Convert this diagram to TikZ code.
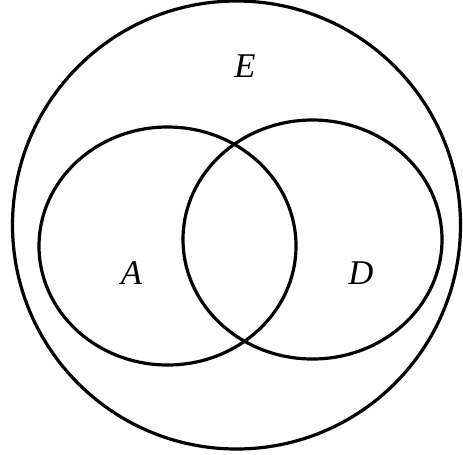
\documentclass[tikz,border=0pt]{standalone}
\usepackage{fontspec}
\setmainfont{Liberation Serif}
\usetikzlibrary{shapes.geometric}
\begin{document}
\begin{tikzpicture}[x=0.75pt,y=-0.75pt,
  setline/.style={draw=black,line width=2.4pt},
  setlabel/.style={font=\fontsize{26}{30}\selectfont\itshape,inner sep=0pt}]
\useasboundingbox (0,0) rectangle (463,454);
\node[setline,circle,minimum size=448*0.75pt,inner sep=0pt] (E) at (236.5,225) {};
\node[setline,ellipse,minimum width=257*0.75pt,minimum height=238*0.75pt,inner sep=0pt] (A) at (167.5,246) {};
\node[setline,ellipse,minimum width=259*0.75pt,minimum height=239*0.75pt,inner sep=0pt] (D) at (312.5,239.5) {};
\node[setlabel] (lE) at (245,66) {E};
\node[setlabel] (lA) at (131.5,273) {A};
\node[setlabel] (lD) at (361,273) {D};
\end{tikzpicture}
\end{document}
